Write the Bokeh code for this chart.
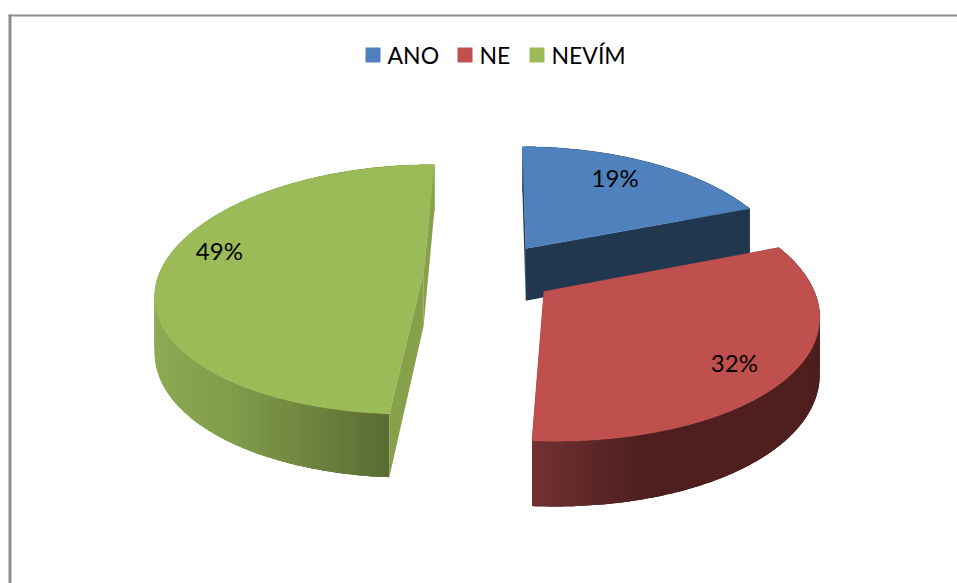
import numpy as np
from bokeh.core.properties import value
from bokeh.embed import file_html
from bokeh.models import Range1d
from bokeh.plotting import figure
from bokeh.resources import INLINE

# Share of answers to the survey question
categories = ["ANO", "NE", "NEVÍM"]
shares = [19, 32, 49]

TOP_COLORS = ["#4f81bd", "#c0504d", "#9bbb59"]
CUT_COLORS = ["#21374f", "#4f1f1f", "#86a14a"]
# Wall shading: (screen x, colour) stops per slice
WALL_STOPS = [
    [(500, "#21374f"), (760, "#21374f")],
    [(530, "#733232"), (640, "#4f1f1f"), (830, "#4f1f1f")],
    [(155, "#8eaa53"), (240, "#7f9a49"), (392, "#5a6b33"), (398, "#86a14a"), (440, "#86a14a")],
]
LABEL_SHIFT = [(-1, -9), (23, 14), (-21, -18)]

W, H = 957, 583
CX, CY = 489, 272.5    # screen position of the pie's centre
VY = -593              # height of the plate's vanishing point
RX = 264               # horizontal radius in pixels
PERSP = 0.1417         # foreshortening of the plate's depth axis
PERSP_X = 0.16         # narrowing of the plate towards the back
TURN = np.radians(0.4)
EXPLODE = 0.25
DEPTH = 54
DEPTH_PERSP = 0.15
FONT = value("Lato")


def project(px, py, lift=0.0):
    """Map plate coordinates to the screen; lift drops a point to the underside."""
    sx = CX + RX * px / (1 + PERSP_X * py)
    sy = CY + (VY - CY) * PERSP * py / (1 + PERSP * py)
    return sx, sy + lift * DEPTH / (1 + DEPTH_PERSP * py)


def hex_rgb(h):
    return np.array([int(h[i:i + 2], 16) for i in (1, 3, 5)], dtype=float)


def shade(stops, x):
    xs = [s[0] for s in stops]
    rgb = np.array([hex_rgb(s[1]) for s in stops])
    c = [np.interp(x, xs, rgb[:, i]) for i in range(3)]
    return "#%02x%02x%02x" % tuple(int(round(v)) for v in c)


p = figure(width=W, height=H, output_backend="svg", toolbar_location=None,
           x_range=Range1d(0, W), y_range=Range1d(H, 0), min_border=0,
           x_axis_type=None, y_axis_type=None, outline_line_color=None,
           background_fill_color="white", border_fill_color="white")
p.grid.visible = False

# Chart frame
p.quad(left=[8, 8], right=[W, 11], top=[14, 14], bottom=[16, H],
       fill_color="#8c8c8c", line_color=None)

edges = np.cumsum([0] + shares) / sum(shares) * 2 * np.pi + TURN
for i in range(len(shares)):
    a0, a1 = edges[i], edges[i + 1]
    mid = (a0 + a1) / 2
    ox, oy = EXPLODE * np.sin(mid), EXPLODE * np.cos(mid)
    angles = np.linspace(a0, a1, max(2, int(shares[i] * 5)))
    rim = [(ox + np.sin(a), oy + np.cos(a)) for a in angles]

    # Flat cut faces
    for px, py in (rim[0], rim[-1]):
        pts = [project(ox, oy), project(px, py), project(px, py, 1), project(ox, oy, 1)]
        p.patch([q[0] for q in pts], [q[1] for q in pts],
                fill_color=CUT_COLORS[i], line_color=None)

    # Outer wall: overlapping strips hide the seams between shades
    xs, ys, cols = [], [], []
    for j in range(len(rim) - 1):
        k = min(j + 3, len(rim) - 1)
        seg = rim[j:k + 1]
        upper = [project(a, b) for a, b in seg]
        lower = [project(a, b, 1) for a, b in reversed(seg)]
        pts = upper + lower
        xs.append([q[0] for q in pts])
        ys.append([q[1] for q in pts])
        cols.append(shade(WALL_STOPS[i], upper[0][0]))
    p.patches(xs, ys, fill_color=cols, line_color=None)

    # Top face
    pts = [project(ox, oy)] + [project(a, b) for a, b in rim]
    p.patch([q[0] for q in pts], [q[1] for q in pts],
            fill_color=TOP_COLORS[i], line_color=TOP_COLORS[i], line_width=0.5)

# Percentage labels
for i, s in enumerate(shares):
    mid = (edges[i] + edges[i + 1]) / 2
    lx, ly = project((EXPLODE + 0.7) * np.sin(mid), (EXPLODE + 0.7) * np.cos(mid))
    p.text([lx + LABEL_SHIFT[i][0]], [ly + LABEL_SHIFT[i][1]], text=[f"{s}%"],
           text_font=FONT, text_font_size="24px", text_color="#000000",
           text_align="center", text_baseline="middle")

# Legend
swatch_x = [365, 457, 529]
for x, name, col in zip(swatch_x, categories, TOP_COLORS):
    p.quad(left=[x], right=[x + 15], top=[47], bottom=[62], fill_color=col, line_color=None)
    p.text([x + 22], [54], text=[name], text_font=FONT, text_font_size="23px",
           text_color="#000000", text_align="left", text_baseline="middle")

open("out.html", "w").write(file_html(p, INLINE))
